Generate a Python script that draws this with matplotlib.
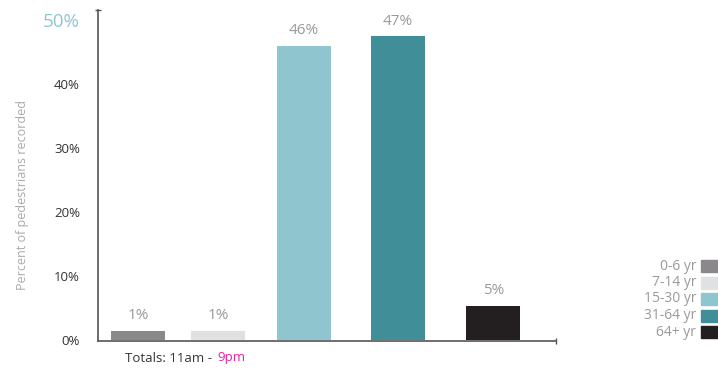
import matplotlib.pyplot as plt
from matplotlib.patches import Rectangle

# data
groups = ['0-6 yr', '7-14 yr', '15-30 yr', '31-64 yr', '64+ yr']
shares = [1.4, 1.4, 45.9, 47.4, 5.4]
colors = ['#8a888b', '#e0e1e2', '#8ec5cf', '#3f8e98', '#231f20']
yticks = [0, 10, 20, 30, 40, 50]

# layout (bar centres are not evenly spaced in the original)
xpos = [0, 1.0, 2.075, 3.25, 4.44]

plt.rcParams['font.family'] = ['Open Sans', 'DejaVu Sans']

fig = plt.figure(figsize=(7.18, 3.72), dpi=100)
ax = fig.add_axes([0.1365, 0.083, 0.638, 0.89])

ax.bar(xpos, shares, width=0.675, color=colors)
for x, v in zip(xpos, shares):
    ax.text(x, v + 1.2, '%.0f%%' % v, ha='center', va='bottom',
            fontsize=11, color='#9a9a9a')

ax.set_xlim(-0.5, 5.225)
ax.set_ylim(-0.15, 51.5)
ax.set_xticks([])
ax.set_yticks(yticks)
ax.set_yticklabels(['%d%%' % t for t in yticks])
ax.tick_params(axis='y', length=0, pad=13, labelsize=9.5, labelcolor='#333333')
lab = ax.get_yticklabels()[-1]
lab.set_color('#8ec5cf')
lab.set_fontsize(13.5)

for s in ['top', 'right']:
    ax.spines[s].set_visible(False)
for s in ['left', 'bottom']:
    ax.spines[s].set_color('#555555')
    ax.spines[s].set_linewidth(1.2)
# little end caps on the axis lines
ax.plot([0], [1], marker='_', ms=4, color='#555555', transform=ax.transAxes, clip_on=False)
ax.plot([1], [0], marker='|', ms=4, color='#555555', transform=ax.transAxes, clip_on=False)

ax.set_ylabel('Percent of pedestrians recorded', fontsize=9, color='#aaaaaa')
ax.yaxis.set_label_coords(-0.150, 0.44)

fig.text(125 / 718, 1 - 358 / 372, 'Totals: 11am - ', fontsize=9.5, color='#333333', va='center')
fig.text(217 / 718, 1 - 358 / 372, '9pm', fontsize=9.5, color='#e8219b', va='center')

# legend drawn by hand, labels right aligned before the swatch
for i, (g, c) in enumerate(zip(groups, colors)):
    yc = 266 + i * 16.5
    fig.patches.append(Rectangle((701 / 718, 1 - (yc + 6) / 372), 17 / 718, 12 / 372,
                                 color=c, transform=fig.transFigure))
    fig.text(696 / 718, 1 - yc / 372, g, ha='right', va='center',
             fontsize=10, color='#9a9a9a')

fig.savefig('out.png', dpi=100)
